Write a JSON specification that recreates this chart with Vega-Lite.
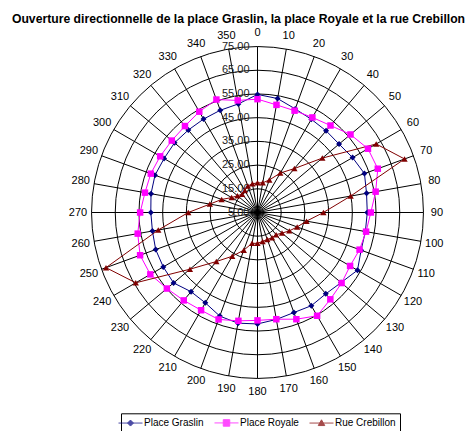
{
  "$schema": "https://vega.github.io/schema/vega-lite/v6.json",
  "width": 360,
  "height": 360,
  "autosize": {"type": "none"},
  "padding": {"left": 77.5, "top": 32.5, "right": 28.5, "bottom": 38.5},
  "config": {"view": {"stroke": null}, "font": "Liberation Sans"},
  "title": {"text": "Ouverture directionnelle de la place Graslin, la place Royale et la rue Crebillon", "fontSize": 12.2, "fontWeight": "bold", "font": "Liberation Sans", "anchor": "middle", "frame": "group", "dx": -19, "offset": 1.5, "color": "black"},
  "datasets": {
    "dirs": [
      {"angle": 0, "graslin": 54.8, "royale": 52.8, "crebillon": 17.5},
      {"angle": 10, "graslin": 53.8, "royale": 51.1, "crebillon": 17.7},
      {"angle": 20, "graslin": 51.5, "royale": 50.7, "crebillon": 19.6},
      {"angle": 30, "graslin": 50.4, "royale": 51.3, "crebillon": 24.2},
      {"angle": 40, "graslin": 50.0, "royale": 52.9, "crebillon": 29.2},
      {"angle": 50, "graslin": 49.9, "royale": 56.2, "crebillon": 40.7},
      {"angle": 60, "graslin": 51.3, "royale": 58.8, "crebillon": 62.8},
      {"angle": 70, "graslin": 53.0, "royale": 59.0, "crebillon": 71.0},
      {"angle": 80, "graslin": 51.7, "royale": 55.6, "crebillon": 44.9},
      {"angle": 90, "graslin": 51.3, "royale": 52.8, "crebillon": 32.8},
      {"angle": 100, "graslin": 51.2, "royale": 51.5, "crebillon": 26.0},
      {"angle": 110, "graslin": 51.5, "royale": 50.8, "crebillon": 22.8},
      {"angle": 120, "graslin": 53.7, "royale": 50.1, "crebillon": 20.5},
      {"angle": 130, "graslin": 51.0, "royale": 51.3, "crebillon": 18.5},
      {"angle": 140, "graslin": 49.8, "royale": 52.8, "crebillon": 17.2},
      {"angle": 150, "graslin": 50.4, "royale": 55.3, "crebillon": 17.3},
      {"angle": 160, "graslin": 49.9, "royale": 52.9, "crebillon": 17.1},
      {"angle": 170, "graslin": 50.8, "royale": 50.7, "crebillon": 17.4},
      {"angle": 180, "graslin": 52.0, "royale": 50.5, "crebillon": 18.0},
      {"angle": 190, "graslin": 52.4, "royale": 51.4, "crebillon": 18.2},
      {"angle": 200, "graslin": 51.5, "royale": 53.0, "crebillon": 21.9},
      {"angle": 210, "graslin": 49.0, "royale": 52.6, "crebillon": 26.3},
      {"angle": 220, "graslin": 48.6, "royale": 53.4, "crebillon": 32.0},
      {"angle": 230, "graslin": 51.2, "royale": 54.9, "crebillon": 42.2},
      {"angle": 240, "graslin": 50.9, "royale": 57.2, "crebillon": 64.3},
      {"angle": 250, "graslin": 50.7, "royale": 57.7, "crebillon": 73.0},
      {"angle": 260, "graslin": 50.0, "royale": 56.3, "crebillon": 47.5},
      {"angle": 270, "graslin": 50.0, "royale": 54.5, "crebillon": 34.2},
      {"angle": 280, "graslin": 50.6, "royale": 53.2, "crebillon": 25.4},
      {"angle": 290, "graslin": 51.0, "royale": 52.9, "crebillon": 21.1},
      {"angle": 300, "graslin": 50.5, "royale": 52.4, "crebillon": 17.6},
      {"angle": 310, "graslin": 50.7, "royale": 52.2, "crebillon": 16.0},
      {"angle": 320, "graslin": 50.4, "royale": 52.6, "crebillon": 15.1},
      {"angle": 330, "graslin": 50.5, "royale": 54.1, "crebillon": 15.7},
      {"angle": 340, "graslin": 50.9, "royale": 55.7, "crebillon": 16.9},
      {"angle": 350, "graslin": 51.5, "royale": 53.0, "crebillon": 17.3}
    ],
    "rings": [{"v": 5}, {"v": 15}, {"v": 25}, {"v": 35}, {"v": 45}, {"v": 55}, {"v": 65}, {"v": 75}]
  },
  "layer": [
    {
      "data": {"name": "rings"},
      "transform": [{"filter": "datum.v > 5"}, {"calculate": "0", "as": "o"}, {"calculate": "datum.v - 5", "as": "r"}],
      "mark": {"type": "point", "shape": "circle", "filled": false, "stroke": "black", "strokeWidth": 1, "opacity": 1},
      "encoding": {
        "x": {"field": "o", "type": "quantitative", "scale": {"domain": [-75.92, 75.92], "nice": false, "zero": false}, "axis": null},
        "y": {"field": "o", "type": "quantitative", "scale": {"domain": [-75.92, 75.92], "nice": false, "zero": false}, "axis": null},
        "size": {"field": "r", "type": "quantitative", "scale": {"type": "pow", "exponent": 2, "domain": [0, 75.92], "range": [0, 129600], "zero": true, "nice": false}, "legend": null}
      }
    },
    {
      "data": {"name": "dirs"},
      "transform": [
        {"calculate": "0", "as": "o"},
        {"calculate": "70 * sin(datum.angle * PI / 180)", "as": "ex"},
        {"calculate": "70 * cos(datum.angle * PI / 180)", "as": "ey"}
      ],
      "mark": {"type": "rule", "stroke": "black", "strokeWidth": 1},
      "encoding": {
        "x": {"field": "o", "type": "quantitative"},
        "y": {"field": "o", "type": "quantitative"},
        "x2": {"field": "ex"},
        "y2": {"field": "ey"}
      }
    },
    {
      "data": {"name": "dirs"},
      "transform": [
        {"calculate": "75.7 * sin(datum.angle * PI / 180)", "as": "lx"},
        {"calculate": "75.7 * cos(datum.angle * PI / 180)", "as": "ly"}
      ],
      "mark": {"type": "text", "fontSize": 11, "font": "Liberation Sans", "color": "black", "align": "center", "baseline": "middle"},
      "encoding": {
        "x": {"field": "lx", "type": "quantitative"},
        "y": {"field": "ly", "type": "quantitative"},
        "text": {"field": "angle", "type": "nominal"}
      }
    },
    {
      "data": {"name": "rings"},
      "transform": [
        {"calculate": "0", "as": "o"},
        {"calculate": "datum.v - 5", "as": "ry"},
        {"calculate": "format(datum.v, '.2f')", "as": "lab"}
      ],
      "mark": {"type": "text", "fontSize": 11, "font": "Liberation Sans", "color": "#222222", "align": "right", "baseline": "middle", "dx": -8},
      "encoding": {
        "x": {"field": "o", "type": "quantitative"},
        "y": {"field": "ry", "type": "quantitative"},
        "text": {"field": "lab", "type": "nominal"}
      }
    },
    {
      "data": {"name": "dirs"},
      "transform": [
        {"fold": ["graslin", "royale", "crebillon"], "as": ["series", "value"]},
        {"calculate": "(datum.value - 5) * sin(datum.angle * PI / 180)", "as": "px"},
        {"calculate": "(datum.value - 5) * cos(datum.angle * PI / 180)", "as": "py"}
      ],
      "layer": [
        {
          "mark": {"type": "point", "filled": true, "strokeWidth": 1, "size": 0},
          "encoding": {
            "x": {"field": "px", "type": "quantitative"},
            "y": {"field": "py", "type": "quantitative"},
            "color": {"field": "series", "type": "nominal", "scale": {"domain": ["graslin", "royale", "crebillon"], "range": ["#000080", "#FF00FF", "#800000"]},
              "legend": {"title": null, "orient": "none", "legendX": 43.5, "legendY": 380.8, "direction": "horizontal", "strokeColor": "black", "padding": 4, "labelFontSize": 10, "labelFont": "Liberation Sans", "labelColor": "black", "columnPadding": 8, "symbolSize": 100, "labelOffset": 8, "symbolStrokeWidth": 1,
                "labelExpr": "{'graslin': 'Place Graslin', 'royale': 'Place Royale', 'crebillon': 'Rue Crebillon'}[datum.label]"}},
            "shape": {"field": "series", "type": "nominal", "scale": {"domain": ["graslin", "royale", "crebillon"], "range": ["M-2.4,0H2.4M-0.6,0L0,-0.6L0.6,0L0,0.6Z", "M-2.4,0H2.4M-0.65,-0.65H0.65V0.65H-0.65Z", "M-2.4,0H2.4M-0.65,0.5L0,-0.65L0.65,0.5Z"]},
              "legend": {"title": null, "orient": "none", "legendX": 43.5, "legendY": 380.8, "direction": "horizontal", "strokeColor": "black", "padding": 4, "labelFontSize": 10, "labelFont": "Liberation Sans", "labelColor": "black", "columnPadding": 8, "symbolSize": 100, "labelOffset": 8, "symbolStrokeWidth": 1,
                "labelExpr": "{'graslin': 'Place Graslin', 'royale': 'Place Royale', 'crebillon': 'Rue Crebillon'}[datum.label]"}}
          }
        },
        {
          "mark": {"type": "line", "interpolate": "linear-closed", "strokeWidth": 1},
          "encoding": {
            "x": {"field": "px", "type": "quantitative"},
            "y": {"field": "py", "type": "quantitative"},
            "order": {"field": "angle", "type": "quantitative"},
            "color": {"field": "series", "type": "nominal"}
          }
        },
        {
          "transform": [{"filter": "datum.series == 'graslin'"}],
          "mark": {"type": "point", "filled": true, "opacity": 1, "size": 36, "shape": "diamond"},
          "encoding": {
            "x": {"field": "px", "type": "quantitative"},
            "y": {"field": "py", "type": "quantitative"},
            "color": {"field": "series", "type": "nominal"}
          }
        },
        {
          "transform": [{"filter": "datum.series == 'royale'"}],
          "mark": {"type": "point", "filled": true, "opacity": 1, "size": 42, "shape": "square"},
          "encoding": {
            "x": {"field": "px", "type": "quantitative"},
            "y": {"field": "py", "type": "quantitative"},
            "color": {"field": "series", "type": "nominal"}
          }
        },
        {
          "transform": [{"filter": "datum.series == 'crebillon'"}],
          "mark": {"type": "point", "filled": true, "opacity": 1, "size": 40, "shape": "triangle-up"},
          "encoding": {
            "x": {"field": "px", "type": "quantitative"},
            "y": {"field": "py", "type": "quantitative"},
            "color": {"field": "series", "type": "nominal"}
          }
        }
      ]
    }
  ]
}
